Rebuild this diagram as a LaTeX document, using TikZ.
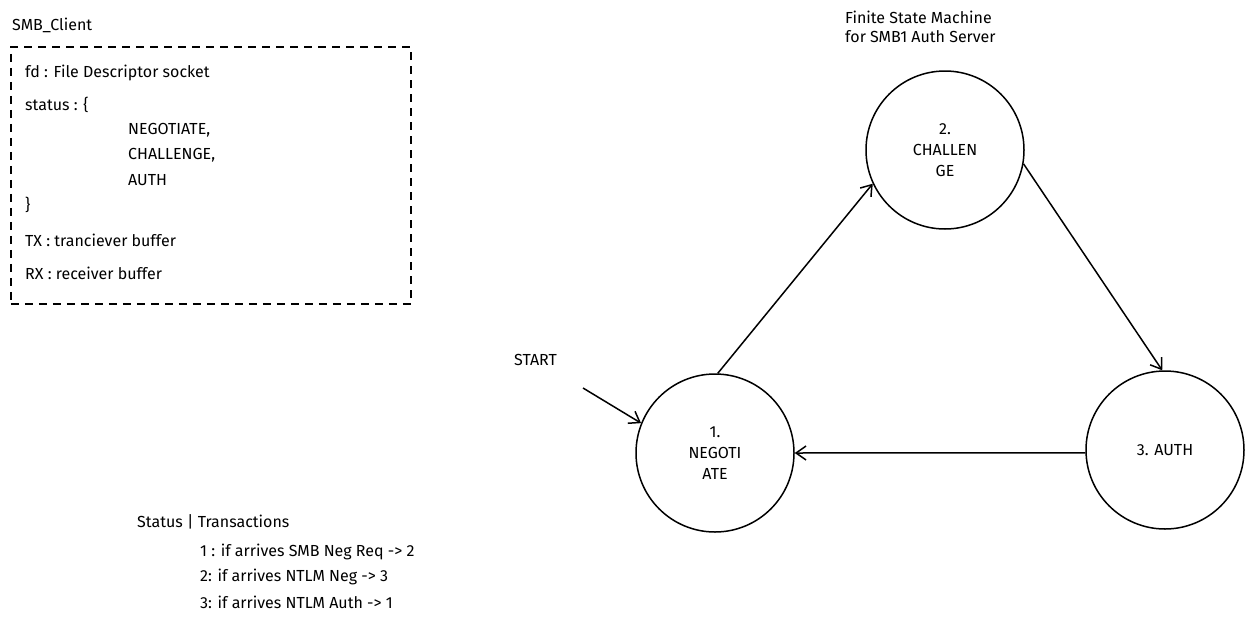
\documentclass[tikz,border=0pt]{standalone}
\usepackage{fontspec}
\setmainfont{Fira Sans}
\usetikzlibrary{arrows.meta}
\begin{document}
\begin{tikzpicture}[x=1pt,y=-1pt,
  t/.style={anchor=west,inner sep=0pt,font=\fontsize{16}{19}\selectfont},
  st/.style={draw,circle,minimum size=158pt,line width=1.5pt,align=center,font=\fontsize{16}{21}\selectfont},
  ar/.style={line width=1.5pt,-{Straight Barb[length=10pt,width=14pt]}}]
\useasboundingbox (0,0) rectangle (1254,627);
\node[t] (title) at (12,25) {SMB\_Client};
\node[draw,line width=1.6pt,dash pattern=on 8pt off 6pt,minimum width=400pt,minimum height=257pt,anchor=north west] (box) at (10,46) {};
\node[t] (l1) at (25,73) {fd : File Descriptor socket};
\node[t] (l2) at (25,105) {status : \{};
\node[t] (l3) at (128,130) {NEGOTIATE,};
\node[t] (l4) at (128,155) {CHALLENGE,};
\node[t] (l5) at (128,180) {AUTH};
\node[t] (l6) at (25,205) {\}};
\node[t] (l7) at (25,240) {TX : tranciever buffer};
\node[t] (l8) at (25,273) {RX : receiver buffer};
\node[t,align=left,anchor=north west] (fsm) at (845,11) {Finite State Machine\\for SMB1 Auth Server};
\node[st] (s2) at (945,150) {2.\\CHALLEN\\GE};
\node[st] (s1) at (715,453) {1.\\NEGOTI\\ATE};
\node[st] (s3) at (1165,450) {3. AUTH};
\draw[ar] (s1.88) -- (s2.205);
\draw[ar] (s2.-10) -- (s3.92);
\draw[ar] (s3.182) -- (s1.0);
\node[t] (start) at (514,360) {START};
\coordinate (sa) at (583,388);
\draw[ar] (sa) -- (s1.158);
\node[t] (st) at (137,522) {Status | Transactions};
\node[t] (r1) at (200,552) {1 : if arrives SMB Neg Req -> 2};
\node[t] (r2) at (200,577) {2: if arrives NTLM Neg -> 3};
\node[t] (r3) at (200,602) {3: if arrives NTLM Auth -> 1};
\end{tikzpicture}
\end{document}
